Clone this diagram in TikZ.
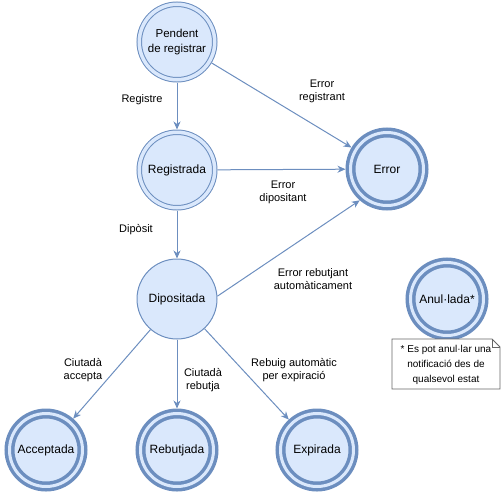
\documentclass[tikz,border=0pt]{standalone}
\usepackage{fontspec}
\setmainfont{Liberation Sans}
\usetikzlibrary{arrows.meta,calc}
\definecolor{fillb}{HTML}{DAE8FC}
\definecolor{strokeb}{HTML}{6C8EBF}
\definecolor{notegray}{HTML}{666666}
\begin{document}
\begin{tikzpicture}[x=1pt,y=-1pt,
  statethin/.style={circle, draw=strokeb, fill=fillb, line width=1pt, double=fillb, double distance=3.5pt, minimum size=75.5pt, inner sep=0pt, outer sep=2.75pt, font=\fontsize{12}{14}\selectfont, align=center},
  statethick/.style={circle, draw=strokeb, fill=fillb, line width=3.5pt, double=fillb, double distance=3pt, minimum size=73pt, inner sep=0pt, outer sep=5pt, font=\fontsize{12}{14}\selectfont, align=center},
  statesingle/.style={circle, draw=strokeb, fill=fillb, line width=1pt, minimum size=80pt, inner sep=0pt, outer sep=0.5pt, font=\fontsize{12}{14}\selectfont, align=center},
  trans/.style={draw=strokeb, line width=1pt, -{Stealth[length=8pt,width=7pt,inset=2.5pt]}},
  lbl/.style={font=\fontsize{11}{13}\selectfont, align=center, inner sep=0pt}
]
\useasboundingbox (0,0) rectangle (503,493);

\node[statethin, font=\fontsize{11.5}{15}\selectfont] (pend) at (177,42) {Pendent\\de registrar};
\node[statethin] (reg) at (177,170) {Registrada};
\node[statesingle] (dip) at (177,299) {Dipositada};
\node[statethick] (err) at (387,169) {Error};
\node[statethick] (anul) at (447,299) {Anul·lada*};
\node[statethick] (acc) at (46,450) {Acceptada};
\node[statethick] (reb) at (177,450) {Rebutjada};
\node[statethick] (exp) at (317,450) {Expirada};

\draw[trans] (pend) -- (reg);
\draw[trans] (pend) -- (err);
\draw[trans] (reg) -- (err);
\draw[trans] (reg) -- (dip);
\draw[trans] (dip.4) -- (err.229);
\draw[trans] (dip) -- (acc);
\draw[trans] (dip) -- (reb);
\draw[trans] (dip) -- (exp);

\node[lbl] (l1) at (142,100) {Registre};
\node[lbl] (l2) at (322,91) {Error\\registrant};
\node[lbl] (l3) at (283,192) {Error\\dipositant};
\node[lbl] (l4) at (136,230) {Dipòsit};
\node[lbl] (l5) at (313,279) {Error rebutjant\\automàticament};
\node[lbl] (l6) at (83,370) {Ciutadà\\accepta};
\node[lbl] (l7) at (203,380) {Ciutadà\\rebutja};
\node[lbl] (l8) at (294,370) {Rebuig automàtic\\per expiració};

\coordinate (nw) at (392,339);
\coordinate (ne) at (500,339);
\coordinate (se) at (500,389);
\coordinate (sw) at (392,389);
\draw[notegray, fill=white, line width=0.8pt] (nw) -- ($(ne)+(-8,0)$) -- ($(ne)+(0,8)$) -- (se) -- (sw) -- cycle;
\draw[notegray, line width=0.8pt] ($(ne)+(-8,0)$) -- ($(ne)+(-8,8)$) -- ($(ne)+(0,8)$);
\node[font=\fontsize{10}{15}\selectfont, align=center, inner sep=0pt] (note) at (446,365) {* Es pot anul·lar una\\notificació des de\\qualsevol estat};
\end{tikzpicture}
\end{document}
